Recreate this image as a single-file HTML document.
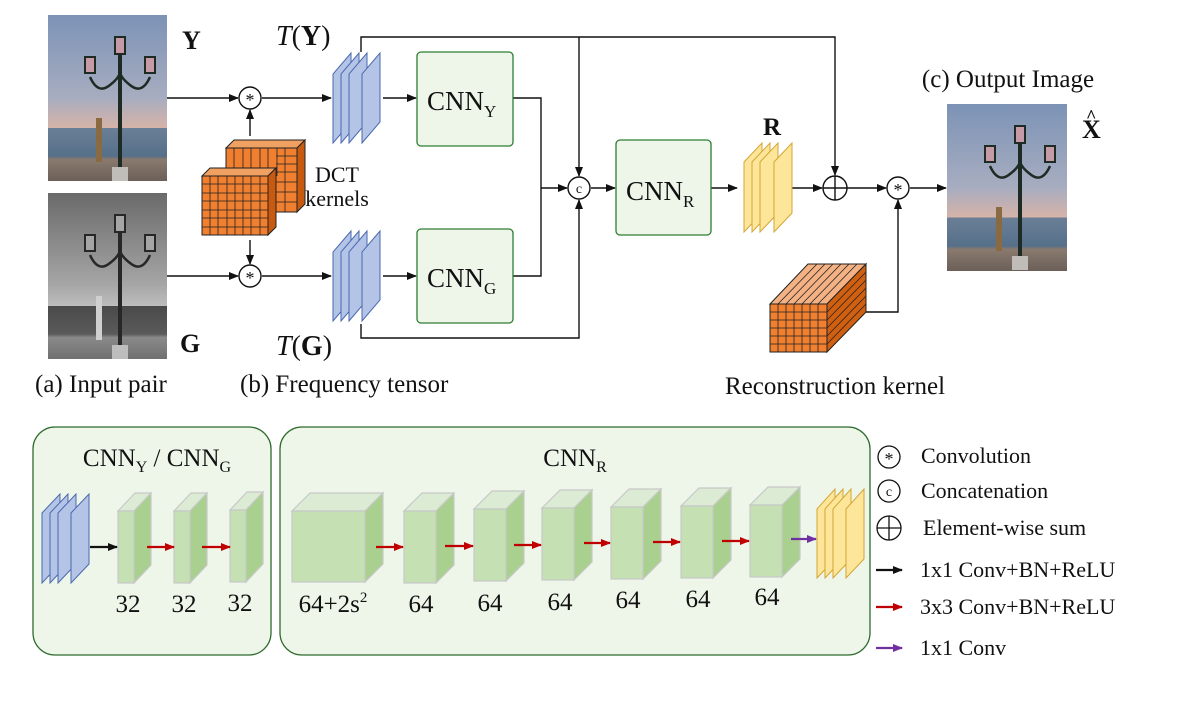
<!DOCTYPE html>
<html><head><meta charset="utf-8"><style>
html,body{margin:0;padding:0;background:#fff;}
svg{display:block;}
text{font-family:"Liberation Serif",serif;fill:#111;}
</style></head><body>
<svg width="1200" height="703" viewBox="0 0 1200 703" xmlns="http://www.w3.org/2000/svg">
<defs>
<marker id="ah" markerWidth="10" markerHeight="8" refX="9" refY="4" orient="auto" markerUnits="userSpaceOnUse"><path d="M0,0 L10,4 L0,8 Z" fill="#111"/></marker>
<marker id="ar" markerWidth="10" markerHeight="8" refX="9" refY="4" orient="auto" markerUnits="userSpaceOnUse"><path d="M0,0 L10,4 L0,8 Z" fill="#c00000"/></marker>
<marker id="ap" markerWidth="10" markerHeight="8" refX="9" refY="4" orient="auto" markerUnits="userSpaceOnUse"><path d="M0,0 L10,4 L0,8 Z" fill="#7030a0"/></marker>
<linearGradient id="sky" x1="0" y1="0" x2="0" y2="1">
<stop offset="0" stop-color="#7c93b6"/><stop offset="0.5" stop-color="#a7adc0"/><stop offset="0.68" stop-color="#d6b3a8"/><stop offset="0.68" stop-color="#6a7f96"/><stop offset="0.85" stop-color="#56708a"/><stop offset="0.87" stop-color="#8a7a6e"/><stop offset="1" stop-color="#6b5f58"/></linearGradient>
<linearGradient id="gray" x1="0" y1="0" x2="0" y2="1">
<stop offset="0" stop-color="#6a6a6a"/><stop offset="0.55" stop-color="#a5a5a5"/><stop offset="0.68" stop-color="#bdbdbd"/><stop offset="0.68" stop-color="#4a4a4a"/><stop offset="0.85" stop-color="#5a5a5a"/><stop offset="0.87" stop-color="#8a8a8a"/><stop offset="1" stop-color="#707070"/></linearGradient>
<g id="lamp" fill="none" stroke="#1e2a24" stroke-width="2.5">
<line x1="72" y1="22" x2="72" y2="158" stroke-width="4"/>
<path d="M42,62 Q50,80 62,70 Q70,64 72,58 Q74,64 82,70 Q94,80 102,62" stroke-width="2.5"/>
<rect x="67" y="22" width="10" height="17" fill="#c79aa8" stroke-width="2"/>
<rect x="37" y="42" width="10" height="16" fill="#c79aa8" stroke-width="2"/>
<rect x="97" y="42" width="10" height="16" fill="#c79aa8" stroke-width="2"/>
<rect x="64" y="152" width="16" height="14" fill="#c0bcb8" stroke="none"/>
</g>
<g id="blk" stroke="#c8c8c8" stroke-width="1.2"><polygon points="0,0 17,-18 33,-18 16,0" fill="#dcebd4"/><polygon points="16,0 33,-18 33,54 16,72" fill="#a9d08e"/><rect x="0" y="0" width="16" height="72" fill="#c5e0b3"/></g>
<g id="b64" stroke="#c8c8c8" stroke-width="1.2"><polygon points="0,0 18,-18 50,-18 32,0" fill="#dcebd4"/><polygon points="32,0 50,-18 50,54 32,72" fill="#a9d08e"/><rect x="0" y="0" width="32" height="72" fill="#c5e0b3"/></g>
<g id="bst" fill="#b4c4e6" stroke="#4a68b0" stroke-width="1"><polygon points="333,143 333,74 351,53 351,122"/><polygon points="341,143 341,74 359,53 359,122"/><polygon points="349,143 349,74 367,53 367,122"/><polygon points="362,143 362,74 380,53 380,122"/></g>
</defs>

<!-- photos -->
<rect x="48" y="15" width="119" height="166" fill="url(#sky)"/>
<rect x="96" y="118" width="6" height="44" fill="#8a6a40"/>
<use href="#lamp" x="48" y="15"/>
<rect x="48" y="193" width="119" height="166" fill="url(#gray)"/>
<rect x="96" y="296" width="6" height="44" fill="#d0d0d0"/>
<use href="#lamp" x="48" y="193" style="filter:grayscale(1)"/>
<rect x="947" y="104" width="120" height="167" fill="url(#sky)"/>
<rect x="996" y="207" width="6" height="44" fill="#8a6a40"/>
<use href="#lamp" x="948" y="104"/>

<text x="182" y="49" font-size="26" font-weight="bold">Y</text>
<text x="180" y="352" font-size="26" font-weight="bold">G</text>
<text x="276" y="45" font-size="28"><tspan font-style="italic">T</tspan>(<tspan font-weight="bold">Y</tspan>)</text>
<text x="276" y="355" font-size="28"><tspan font-style="italic">T</tspan>(<tspan font-weight="bold">G</tspan>)</text>

<!-- lines -->
<g stroke="#111" stroke-width="1.4" fill="none">
<line x1="167" y1="98" x2="238" y2="98" marker-end="url(#ah)"/>
<line x1="262" y1="98" x2="331" y2="98" marker-end="url(#ah)"/>
<line x1="167" y1="276" x2="238" y2="276" marker-end="url(#ah)"/>
<line x1="262" y1="276" x2="331" y2="276" marker-end="url(#ah)"/>
<line x1="250" y1="136" x2="250" y2="110" marker-end="url(#ah)"/>
<line x1="250" y1="240" x2="250" y2="264" marker-end="url(#ah)"/>
<line x1="383" y1="98" x2="416" y2="98" marker-end="url(#ah)"/>
<line x1="383" y1="276" x2="416" y2="276" marker-end="url(#ah)"/>
<polyline points="513,98 541,98 541,276 513,276"/>
<line x1="541" y1="188" x2="567" y2="188" marker-end="url(#ah)"/>
<polyline points="361,52 361,37 835,37 835,175" marker-end="url(#ah)"/>
<line x1="579" y1="37" x2="579" y2="176" marker-end="url(#ah)"/>
<polyline points="361,324 361,338 579,338 579,200" marker-end="url(#ah)"/>
<line x1="591" y1="188" x2="615" y2="188" marker-end="url(#ah)"/>
<line x1="711" y1="188" x2="737" y2="188" marker-end="url(#ah)"/>
<line x1="784" y1="188" x2="822" y2="188" marker-end="url(#ah)"/>
<line x1="847" y1="188" x2="886" y2="188" marker-end="url(#ah)"/>
<line x1="910" y1="188" x2="946" y2="188" marker-end="url(#ah)"/>
<polyline points="866,312 898,312 898,200" marker-end="url(#ah)"/>
</g>
<!-- ops -->
<g stroke="#111" stroke-width="1.4" fill="#fff">
<circle cx="250" cy="98" r="11"/><circle cx="250" cy="276" r="11"/>
<circle cx="579" cy="188" r="11"/><circle cx="835" cy="188" r="12"/>
<circle cx="898" cy="188" r="11"/>
</g>
<line x1="823" y1="188" x2="847" y2="188" stroke="#111" stroke-width="1.4"/>
<line x1="835" y1="176" x2="835" y2="200" stroke="#111" stroke-width="1.4"/>
<g font-size="18" text-anchor="middle"><text x="250" y="106">*</text><text x="250" y="284">*</text><text x="898" y="196">*</text></g>
<text x="579" y="193" font-size="14" text-anchor="middle" font-family="Liberation Sans">c</text>

<!-- blue stacks -->
<use href="#bst"/>
<use href="#bst" y="178"/>
<!-- CNN boxes -->
<g fill="#eef6ea" stroke="#2e7d32" stroke-width="1.3">
<rect x="417" y="52" width="96" height="94" rx="4"/>
<rect x="417" y="229" width="96" height="94" rx="4"/>
<rect x="616" y="140" width="95" height="95" rx="4"/>
</g>
<g font-size="27"><text x="427" y="110">CNN<tspan font-size="17" dy="7">Y</tspan></text>
<text x="427" y="287">CNN<tspan font-size="17" dy="7">G</tspan></text>
<text x="626" y="200">CNN<tspan font-size="17" dy="7">R</tspan></text></g>

<!-- yellow stack R -->
<g fill="#fde59a" stroke="#d4a634" stroke-width="1">
<polygon points="744,232 744,162 762,143 762,213"/><polygon points="752,232 752,162 770,143 770,213"/><polygon points="760,232 760,162 778,143 778,213"/><polygon points="774,232 774,162 792,143 792,213"/>
</g>
<text x="763" y="135" font-size="25" font-weight="bold">R</text>
<text x="1082" y="138" font-size="26" font-weight="bold">X</text>
<text x="1086" y="122" font-size="18" font-weight="bold">^</text>
<text x="1008" y="87" font-size="25" text-anchor="middle">(c) Output Image</text>

<!-- DCT kernels -->
<g stroke="#222" stroke-width="1">
<polygon points="226,148 234,140 305,140 297,148" fill="#f0a060"/>
<polygon points="297,148 305,140 305,204 297,212" fill="#c85a10"/>
<rect x="226" y="148" width="71" height="64" fill="#f08030"/>
<polygon points="202,176 210,168 276,168 268,176" fill="#f0a060"/>
<polygon points="268,176 276,168 276,227 268,235" fill="#c85a10"/>
<rect x="202" y="176" width="66" height="59" fill="#f08030"/>
</g>
<g stroke="#222" stroke-width="0.8">
<path d="M210,176V235M218,176V235M227,176V235M235,176V235M243,176V235M251,176V235M260,176V235M202,184H268M202,193H268M202,201H268M202,210H268M202,218H268M202,227H268"/>
<path d="M234,148V168M243,148V168M251,148V168M260,148V168M268,148V168M277,148V176M285,148V212M276,156H297M276,164H297M276,172H297M276,182H297M276,192H297M276,202H297"/>
</g>
<text x="337" y="182" font-size="22" text-anchor="middle" fill="#333">DCT</text>
<text x="337" y="206" font-size="22" text-anchor="middle" fill="#333">kernels</text>

<!-- reconstruction kernel -->
<g stroke="#222" stroke-width="1">
<polygon points="770,304 808,264 866,264 827,304" fill="#f4b183"/>
<polygon points="827,304 866,264 866,312 827,352" fill="#d05f10"/>
<rect x="770" y="304" width="57" height="48" fill="#f08030"/>
</g>
<g stroke="#222" stroke-width="0.8">
<path d="M778,304V352M786,304V352M794,304V352M802,304V352M810,304V352M818,304V352M770,312H827M770,320H827M770,328H827M770,336H827M770,344H827"/>
<path d="M778,304L817,264M786,304L825,264M794,304L833,264M802,304L841,264M810,304L849,264M818,304L857,264M827,312L866,272M827,320L866,280M827,328L866,288M827,336L866,296M827,344L866,304"/>
</g>
<text x="835" y="394" font-size="25" text-anchor="middle">Reconstruction kernel</text>
<text x="35" y="392" font-size="25">(a) Input pair</text>
<text x="240" y="392" font-size="25">(b) Frequency tensor</text>

<!-- bottom panels -->
<g fill="#eef6ea" stroke="#2e6b2e" stroke-width="1.3">
<rect x="33" y="427" width="238" height="228" rx="22"/>
<rect x="280" y="427" width="590" height="228" rx="22"/>
</g>
<text x="157" y="466" font-size="25" text-anchor="middle">CNN<tspan font-size="16" dy="6">Y</tspan><tspan dy="-6"> / CNN</tspan><tspan font-size="16" dy="6">G</tspan></text>
<text x="575" y="466" font-size="25" text-anchor="middle">CNN<tspan font-size="16" dy="6">R</tspan></text>

<g fill="#b4c4e6" stroke="#4a68b0" stroke-width="1">
<polygon points="42,583 42,513 60,494 60,564"/><polygon points="50,583 50,513 68,494 68,564"/><polygon points="58,583 58,513 76,494 76,564"/><polygon points="71,583 71,513 89,494 89,564"/>
</g>
<g fill="#fde59a" stroke="#d4a634" stroke-width="1">
<polygon points="817,578 817,509 835,489 835,559"/><polygon points="825,578 825,509 843,489 843,559"/><polygon points="833,578 833,509 851,489 851,559"/><polygon points="846,578 846,509 864,489 864,559"/>
</g>
<!-- blocks -->
<use href="#blk" x="118" y="511"/><use href="#blk" x="174" y="511"/><use href="#blk" x="230" y="510"/>
<g stroke="#c8c8c8" stroke-width="1.2">
<polygon points="292,511 310,493 383,493 365,511" fill="#dcebd4"/><polygon points="365,511 383,493 383,564 365,582" fill="#a9d08e"/><rect x="292" y="511" width="73" height="71" fill="#c5e0b3"/>
</g>
<use href="#b64" x="404" y="511"/><use href="#b64" x="474" y="509"/><use href="#b64" x="542" y="508"/><use href="#b64" x="611" y="507"/><use href="#b64" x="681" y="506"/><use href="#b64" x="750" y="505"/>
<g stroke-width="2.2" fill="none">
<line x1="90" y1="547" x2="117" y2="547" stroke="#111" marker-end="url(#ah)"/>
<line x1="147" y1="547" x2="174" y2="547" stroke="#c00000" marker-end="url(#ar)"/>
<line x1="202" y1="547" x2="230" y2="547" stroke="#c00000" marker-end="url(#ar)"/>
<line x1="376" y1="547" x2="403" y2="547" stroke="#c00000" marker-end="url(#ar)"/>
<line x1="445" y1="546" x2="473" y2="546" stroke="#c00000" marker-end="url(#ar)"/>
<line x1="514" y1="545" x2="541" y2="545" stroke="#c00000" marker-end="url(#ar)"/>
<line x1="584" y1="543" x2="610" y2="543" stroke="#c00000" marker-end="url(#ar)"/>
<line x1="653" y1="542" x2="680" y2="542" stroke="#c00000" marker-end="url(#ar)"/>
<line x1="722" y1="541" x2="749" y2="541" stroke="#c00000" marker-end="url(#ar)"/>
<line x1="791" y1="539" x2="816" y2="539" stroke="#7030a0" marker-end="url(#ap)"/>
</g>
<g font-size="25" text-anchor="middle">
<text x="128" y="612">32</text><text x="184" y="612">32</text><text x="240" y="611">32</text>
<text x="333" y="612">64+2s<tspan font-size="15" dy="-10">2</tspan></text>
<text x="421" y="612">64</text><text x="490" y="611">64</text><text x="560" y="610">64</text><text x="628" y="608">64</text><text x="698" y="607">64</text><text x="767" y="605">64</text>
</g>

<!-- legend -->
<g stroke="#111" stroke-width="1.3" fill="#fff">
<circle cx="889" cy="457" r="11"/><circle cx="889" cy="491" r="11"/><circle cx="889" cy="528" r="12"/>
</g>
<line x1="877" y1="528" x2="901" y2="528" stroke="#111" stroke-width="1.3"/>
<line x1="889" y1="516" x2="889" y2="540" stroke="#111" stroke-width="1.3"/>
<text x="889" y="465" font-size="18" text-anchor="middle">*</text>
<text x="889" y="496" font-size="14" text-anchor="middle" font-family="Liberation Sans">c</text>
<g stroke-width="2.2">
<line x1="876" y1="570" x2="902" y2="570" stroke="#111" marker-end="url(#ah)"/>
<line x1="876" y1="607" x2="902" y2="607" stroke="#c00000" marker-end="url(#ar)"/>
<line x1="876" y1="648" x2="902" y2="648" stroke="#7030a0" marker-end="url(#ap)"/>
</g>
<g font-size="22">
<text x="921" y="463">Convolution</text>
<text x="921" y="498">Concatenation</text>
<text x="923" y="535">Element-wise sum</text>
<text x="920" y="577">1x1 Conv+BN+ReLU</text>
<text x="920" y="614">3x3 Conv+BN+ReLU</text>
<text x="920" y="655">1x1 Conv</text>
</g>
</svg>
</body></html>
